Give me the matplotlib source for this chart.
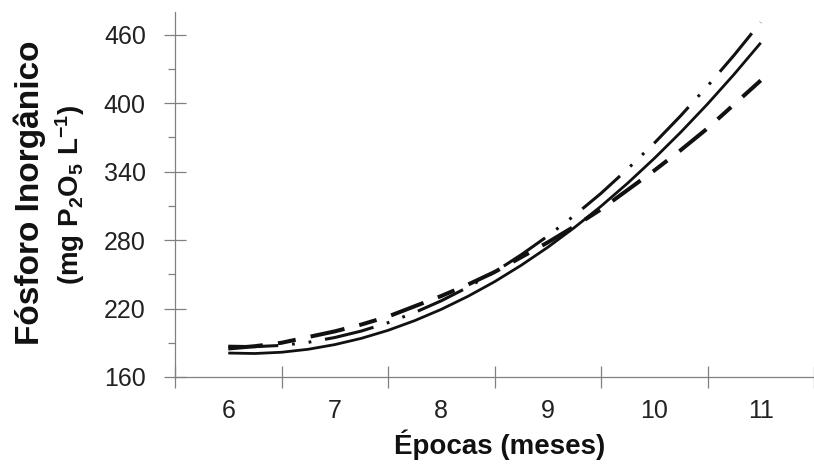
import matplotlib
matplotlib.use("Agg")
import matplotlib.pyplot as plt

plt.rcParams["font.family"] = ["Liberation Sans", "DejaVu Sans"]
plt.rcParams["mathtext.fontset"] = "custom"
plt.rcParams["mathtext.rm"] = "Liberation Sans"
plt.rcParams["mathtext.bf"] = "Liberation Sans:bold"
plt.rcParams["mathtext.default"] = "bf"
plt.rcParams["lines.scale_dashes"] = False

# valores (cada 0,25 meses)
epocas = [6, 6.25, 6.5, 6.75, 7, 7.25, 7.5, 7.75, 8, 8.25, 8.5,
          8.75, 9, 9.25, 9.5, 9.75, 10, 10.25, 10.5, 10.75, 11]
serie_continua = [181, 180.6, 181.7, 184.3, 188.4, 193.9, 200.9, 209.4, 219.3,
                  230.7, 243.5, 257.9, 273.7, 291, 309.7, 329.9, 351.6, 374.7,
                  399.3, 425.4, 453]
serie_trazos = [185, 187, 190, 195, 200, 206, 213, 222, 231, 241, 252, 265,
                278, 292, 307, 324, 341, 359, 378, 399, 420]
serie_trazo_punto = [187, 186.6, 187.7, 190.4, 194.6, 200.3, 207.6, 216.5,
                     226.8, 238.7, 252, 267.1, 283.6, 301.6, 321, 342.4, 365,
                     389.2, 415, 442.2, 471]

etiquetas_x = [6, 7, 8, 9, 10, 11]
ticks_y = [160, 220, 280, 340, 400, 460]

fig = plt.figure(figsize=(8.14, 4.66), dpi=100)
ax = fig.add_axes([175 / 814, 89 / 466, 639 / 814, 365 / 466])

ax.plot(epocas, serie_continua, color="#111111", lw=2.0, solid_capstyle="butt")
ax.plot(epocas, serie_trazos, color="#111111", lw=2.9, dashes=(25, 11, 13, 11))
ax.plot(epocas, serie_trazo_punto, color="#111111", lw=2.2,
        dashes=(36, 10, 2, 10, 2, 10))

ax.set_xlim(5.5, 11.44)
ax.set_ylim(160, 480)

ax.set_xticks(etiquetas_x)
ax.set_xticks([5.5, 6.5, 7.5, 8.5, 9.5, 10.5, 11.5], minor=True)
ax.set_yticks(ticks_y)
ax.set_yticks([190, 250, 310, 370, 430], minor=True)

gris = "#808080"
for lado in ["top", "right"]:
    ax.spines[lado].set_visible(False)
for lado in ["left", "bottom"]:
    ax.spines[lado].set_color(gris)
    ax.spines[lado].set_linewidth(0.9)

ax.tick_params(axis="x", which="major", length=0, labelsize=18, pad=16,
               labelcolor="#222222")
ax.tick_params(axis="x", which="minor", direction="inout", length=16,
               color=gris, width=0.9)
ax.tick_params(axis="y", which="major", direction="inout", length=16,
               color=gris, width=0.9, labelsize=18, pad=13, labelcolor="#222222")
ax.tick_params(axis="y", which="minor", direction="out", length=5,
               color=gris, width=0.9)

fig.text(500 / 814, 1 - 445 / 466, "Épocas (meses)", fontsize=20,
         fontweight="bold", ha="center", va="center", color="#111111")
fig.text(30 / 814, 1 - 193 / 466, "Fósforo Inorgânico", fontsize=24,
         fontweight="bold", rotation=90, ha="center", va="center",
         color="#111111")
fig.text(70 / 814, 1 - 195 / 466, r"(mg P$_{2}$O$_{5}$ L$^{-1}$)",
         fontsize=20, fontweight="bold", rotation=90, ha="center",
         va="center", color="#111111")

fig.savefig("out.png", dpi=100)
